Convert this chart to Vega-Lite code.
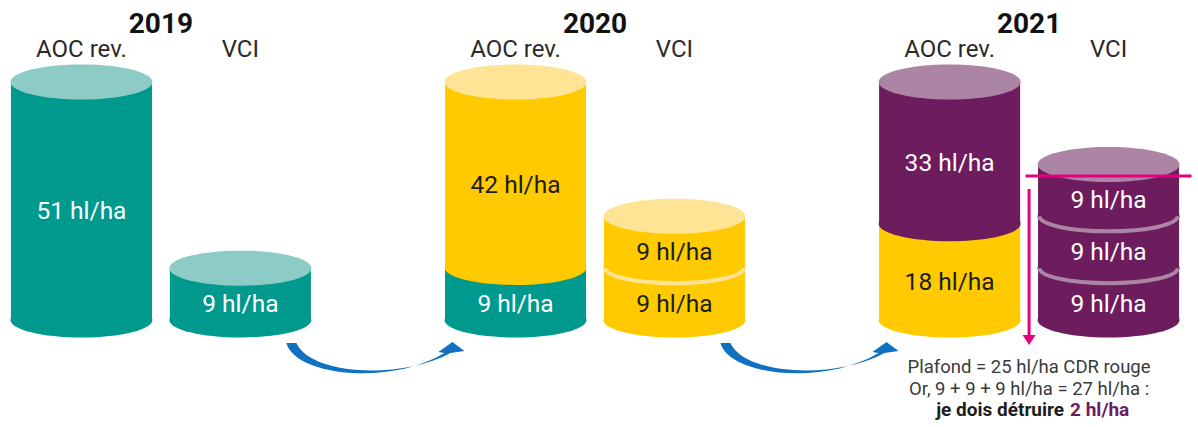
{
  "$schema": "https://vega.github.io/schema/vega-lite/v6.json",
  "width": 1198,
  "height": 427,
  "autosize": {"type": "fit", "contains": "padding"},
  "padding": 0,
  "background": "white",
  "config": {"view": {"stroke": null}, "font": "Roboto"},
  "datasets": {
    "cyl": [
      {"year": "2019", "type": "AOC rev.", "seg": "teal", "value": 51},
      {"year": "2019", "type": "VCI", "seg": "teal", "value": 9},
      {"year": "2020", "type": "AOC rev.", "seg": "teal", "value": 9},
      {"year": "2020", "type": "AOC rev.", "seg": "yellow", "value": 42},
      {"year": "2020", "type": "VCI", "seg": "yellow", "value": 9},
      {"year": "2020", "type": "VCI", "seg": "yellow", "value": 9},
      {"year": "2021", "type": "AOC rev.", "seg": "yellow", "value": 18},
      {"year": "2021", "type": "AOC rev.", "seg": "purple", "value": 33},
      {"year": "2021", "type": "VCI", "seg": "purple", "value": 9},
      {"year": "2021", "type": "VCI", "seg": "purple", "value": 9},
      {"year": "2021", "type": "VCI", "seg": "purple", "value": 9}
    ],
    "annot": [
      {"kind": "ceiling", "year": "2021", "type": "VCI", "v": 25},
      {"kind": "flow", "year": "2019", "type": "VCI", "v": 0},
      {"kind": "flow", "year": "2020", "type": "VCI", "v": 0},
      {"kind": "l1", "year": "2021", "v": 0, "text": "Plafond = 25 hl/ha CDR rouge"},
      {"kind": "l2", "year": "2021", "v": 0, "text": "Or, 9 + 9 + 9 hl/ha = 27 hl/ha :"},
      {"kind": "l3a", "year": "2021", "v": 0, "text": "je dois détruire"},
      {"kind": "l3b", "year": "2021", "v": 0, "text": "2 hl/ha"}
    ]
  },
  "data": {"name": "cyl"},
  "transform": [
    {"stack": "value", "groupby": ["year", "type"], "as": ["v0", "v1"]},
    {"joinaggregate": [{"op": "max", "field": "v1", "as": "vmax"}], "groupby": ["year", "type"]},
    {"calculate": "datum.value + ' hl/ha'", "as": "label"}
  ],
  "resolve": {"scale": {"y": "independent"}},
  "layer": [
    {
      "transform": [{"filter": "datum.type === 'AOC rev.'"}],
      "mark": {"type": "bar", "opacity": 1},
      "encoding": {
        "x": {"field": "year", "type": "nominal", "scale": {"domain": ["2019", "2020", "2021"], "paddingInner": 0.2586, "paddingOuter": 0}, "axis": null},
        "xOffset": {"field": "type", "type": "nominal", "scale": {"domain": ["AOC rev.", "VCI"], "paddingInner": 0.1125, "paddingOuter": 0.06875}},
        "y": {"field": "v1", "type": "quantitative", "scale": {"type": "pow", "exponent": 0.87, "domain": [0, 51], "range": [320, 82], "nice": false, "zero": false}, "axis": null},
        "y2": {"field": "v0"},
        "color": {"field": "seg", "type": "nominal", "scale": {"domain": ["teal", "yellow", "purple"], "range": ["#00998e", "#ffcb00", "#6d1d5e"]}, "legend": null}
      }
    },
    {
      "transform": [{"filter": "datum.type === 'AOC rev.'"}],
      "mark": {"type": "point", "filled": true, "opacity": 1, "size": 4, "shape": "M -71 0 A 71 17.5 0 1 0 71 0 A 71 17.5 0 1 0 -71 0 Z"},
      "encoding": {
        "x": {"field": "year", "type": "nominal", "axis": null},
        "xOffset": {"field": "type", "type": "nominal"},
        "y": {"field": "v0", "type": "quantitative", "scale": {"type": "pow", "exponent": 0.87, "domain": [0, 51], "range": [320, 82], "nice": false, "zero": false}, "axis": null},
        "color": {"field": "seg", "type": "nominal", "legend": null}
      }
    },
    {
      "transform": [{"filter": "datum.type === 'AOC rev.' && datum.v1 === datum.vmax"}],
      "mark": {"type": "point", "filled": true, "opacity": 1, "size": 4, "shape": "M -71 0 A 71 17.5 0 1 0 71 0 A 71 17.5 0 1 0 -71 0 Z"},
      "encoding": {
        "x": {"field": "year", "type": "nominal", "axis": null},
        "xOffset": {"field": "type", "type": "nominal"},
        "y": {"field": "v1", "type": "quantitative", "scale": {"type": "pow", "exponent": 0.87, "domain": [0, 51], "range": [320, 82], "nice": false, "zero": false}, "axis": null},
        "fill": {"field": "seg", "type": "nominal", "scale": {"domain": ["teal", "yellow", "purple"], "range": ["#8ccbc6", "#ffe496", "#ac85a4"]}, "legend": null}
      }
    },
    {
      "transform": [
        {"filter": "datum.type === 'AOC rev.'"},
        {"calculate": "pow((pow(datum.v0, 0.87) + pow(datum.v1, 0.87)) / 2, 1 / 0.87)", "as": "mid"}
      ],
      "mark": {"type": "text", "fontSize": 24.5, "baseline": "middle", "dy": 11},
      "encoding": {
        "x": {"field": "year", "type": "nominal", "axis": null},
        "xOffset": {"field": "type", "type": "nominal"},
        "y": {"field": "mid", "type": "quantitative", "scale": {"type": "pow", "exponent": 0.87, "domain": [0, 51], "range": [320, 82], "nice": false, "zero": false}, "axis": null},
        "text": {"field": "label"},
        "color": {"condition": {"test": "datum.seg === 'yellow'", "value": "#1d1d1b"}, "value": "#ffffff"}
      }
    },
    {
      "transform": [{"filter": "datum.type === 'VCI'"}],
      "mark": {"type": "bar", "opacity": 1},
      "encoding": {
        "x": {"field": "year", "type": "nominal", "axis": null},
        "xOffset": {"field": "type", "type": "nominal"},
        "y": {"field": "v1", "type": "quantitative", "scale": {"domain": [0, 25], "range": [320, 176], "nice": false, "zero": false}, "axis": null},
        "y2": {"field": "v0"},
        "color": {"field": "seg", "type": "nominal", "legend": null}
      }
    },
    {
      "transform": [{"filter": "datum.type === 'VCI'"}],
      "mark": {"type": "point", "filled": true, "opacity": 1, "size": 4, "shape": "M -71 0 A 71 17.5 0 1 0 71 0 A 71 17.5 0 1 0 -71 0 Z"},
      "encoding": {
        "x": {"field": "year", "type": "nominal", "axis": null},
        "xOffset": {"field": "type", "type": "nominal"},
        "y": {"field": "v0", "type": "quantitative", "scale": {"domain": [0, 25], "range": [320, 176], "nice": false, "zero": false}, "axis": null},
        "color": {"field": "seg", "type": "nominal", "legend": null}
      }
    },
    {
      "transform": [{"filter": "datum.type === 'VCI' && datum.v0 > 0"}],
      "mark": {"type": "point", "filled": false, "opacity": 1, "size": 4, "strokeWidth": 4, "shape": "M -69 0 A 69 15 0 0 0 69 0"},
      "encoding": {
        "x": {"field": "year", "type": "nominal", "axis": null},
        "xOffset": {"field": "type", "type": "nominal"},
        "y": {"field": "v0", "type": "quantitative", "scale": {"domain": [0, 25], "range": [320, 176], "nice": false, "zero": false}, "axis": null},
        "stroke": {"field": "seg", "type": "nominal", "scale": {"domain": ["teal", "yellow", "purple"], "range": ["#8ccbc6", "#ffe496", "#ac85a4"]}, "legend": null}
      }
    },
    {
      "transform": [{"filter": "datum.type === 'VCI' && datum.v1 === datum.vmax"}],
      "mark": {"type": "point", "filled": true, "opacity": 1, "size": 4, "shape": "M -71 0 A 71 17.5 0 1 0 71 0 A 71 17.5 0 1 0 -71 0 Z"},
      "encoding": {
        "x": {"field": "year", "type": "nominal", "axis": null},
        "xOffset": {"field": "type", "type": "nominal"},
        "y": {"field": "v1", "type": "quantitative", "scale": {"domain": [0, 25], "range": [320, 176], "nice": false, "zero": false}, "axis": null},
        "fill": {"field": "seg", "type": "nominal", "legend": null}
      }
    },
    {
      "transform": [
        {"filter": "datum.type === 'VCI'"},
        {"calculate": "(datum.v0 + datum.v1) / 2", "as": "mid"}
      ],
      "mark": {"type": "text", "fontSize": 24.5, "baseline": "middle", "dy": 11},
      "encoding": {
        "x": {"field": "year", "type": "nominal", "axis": null},
        "xOffset": {"field": "type", "type": "nominal"},
        "y": {"field": "mid", "type": "quantitative", "scale": {"domain": [0, 25], "range": [320, 176], "nice": false, "zero": false}, "axis": null},
        "text": {"field": "label"},
        "color": {"condition": {"test": "datum.seg === 'yellow'", "value": "#1d1d1b"}, "value": "#ffffff"}
      }
    },
    {
      "transform": [{"filter": "datum.v0 === 0"}],
      "mark": {"type": "text", "fontSize": 24, "baseline": "alphabetic", "dy": -25, "color": "#2a2a2a"},
      "encoding": {
        "x": {"field": "year", "type": "nominal", "axis": null},
        "xOffset": {"field": "type", "type": "nominal"},
        "y": {"datum": 51, "type": "quantitative", "scale": {"type": "pow", "exponent": 0.87, "domain": [0, 51], "range": [320, 82], "nice": false, "zero": false}, "axis": null},
        "text": {"field": "type"}
      }
    },
    {
      "transform": [{"filter": "datum.v0 === 0 && datum.type === 'AOC rev.'"}],
      "mark": {"type": "text", "fontSize": 28, "fontWeight": "bold", "baseline": "alphabetic", "dy": -49, "color": "#111111"},
      "encoding": {
        "x": {"field": "year", "type": "nominal", "axis": null},
        "y": {"datum": 51, "type": "quantitative", "scale": {"type": "pow", "exponent": 0.87, "domain": [0, 51], "range": [320, 82], "nice": false, "zero": false}, "axis": null},
        "text": {"field": "year"}
      }
    },
    {
      "data": {"name": "annot"},
      "transform": [{"filter": "datum.kind === 'ceiling'"}],
      "mark": {"type": "point", "filled": false, "opacity": 1, "size": 4, "strokeWidth": 3, "color": "#e5007d", "shape": "M -83 0 L 83 0"},
      "encoding": {
        "x": {"field": "year", "type": "nominal", "axis": null},
        "xOffset": {"field": "type", "type": "nominal"},
        "y": {"field": "v", "type": "quantitative", "scale": {"domain": [0, 25], "range": [320, 176], "nice": false, "zero": false}, "axis": null}
      }
    },
    {
      "data": {"name": "annot"},
      "transform": [{"filter": "datum.kind === 'ceiling'"}],
      "mark": {"type": "point", "filled": true, "opacity": 1, "size": 4, "color": "#e5007d", "shape": "M -1.5 13 L 1.5 13 L 1.5 159 L 6.5 159 L 0 169 L -6.5 159 L -1.5 159 Z"},
      "encoding": {
        "x": {"field": "year", "type": "nominal", "axis": null},
        "y": {"field": "v", "type": "quantitative", "scale": {"domain": [0, 25], "range": [320, 176], "nice": false, "zero": false}, "axis": null}
      }
    },
    {
      "data": {"name": "annot"},
      "transform": [{"filter": "datum.kind === 'flow'"}],
      "mark": {"type": "point", "filled": true, "opacity": 1, "size": 4, "color": "#1070c2", "shape": "M 46 23 C 55 56 150 66 204 33 L 198 32 L 212 22 L 224 31 L 210 33 C 160 60 70 55 56 23 Z"},
      "encoding": {
        "x": {"field": "year", "type": "nominal", "axis": null},
        "xOffset": {"field": "type", "type": "nominal"},
        "y": {"field": "v", "type": "quantitative", "scale": {"domain": [0, 25], "range": [320, 176], "nice": false, "zero": false}, "axis": null}
      }
    },
    {
      "data": {"name": "annot"},
      "transform": [{"filter": "datum.kind === 'l1'"}],
      "mark": {"type": "text", "fontSize": 18.5, "baseline": "alphabetic", "dy": 53, "color": "#3a3a3a"},
      "encoding": {
        "x": {"field": "year", "type": "nominal", "axis": null},
        "y": {"field": "v", "type": "quantitative", "scale": {"domain": [0, 25], "range": [320, 176], "nice": false, "zero": false}, "axis": null},
        "text": {"field": "text"}
      }
    },
    {
      "data": {"name": "annot"},
      "transform": [{"filter": "datum.kind === 'l2'"}],
      "mark": {"type": "text", "fontSize": 18.5, "baseline": "alphabetic", "dy": 75, "color": "#3a3a3a"},
      "encoding": {
        "x": {"field": "year", "type": "nominal", "axis": null},
        "y": {"field": "v", "type": "quantitative", "scale": {"domain": [0, 25], "range": [320, 176], "nice": false, "zero": false}, "axis": null},
        "text": {"field": "text"}
      }
    },
    {
      "data": {"name": "annot"},
      "transform": [{"filter": "datum.kind === 'l3a'"}],
      "mark": {"type": "text", "fontSize": 19, "fontWeight": "bold", "baseline": "alphabetic", "align": "right", "dx": 35, "dy": 96, "color": "#1d1d1b"},
      "encoding": {
        "x": {"field": "year", "type": "nominal", "axis": null},
        "y": {"field": "v", "type": "quantitative", "scale": {"domain": [0, 25], "range": [320, 176], "nice": false, "zero": false}, "axis": null},
        "text": {"field": "text"}
      }
    },
    {
      "data": {"name": "annot"},
      "transform": [{"filter": "datum.kind === 'l3b'"}],
      "mark": {"type": "text", "fontSize": 19, "fontWeight": "bold", "baseline": "alphabetic", "align": "left", "dx": 41, "dy": 96, "color": "#6d1d5e"},
      "encoding": {
        "x": {"field": "year", "type": "nominal", "axis": null},
        "y": {"field": "v", "type": "quantitative", "scale": {"domain": [0, 25], "range": [320, 176], "nice": false, "zero": false}, "axis": null},
        "text": {"field": "text"}
      }
    }
  ]
}
